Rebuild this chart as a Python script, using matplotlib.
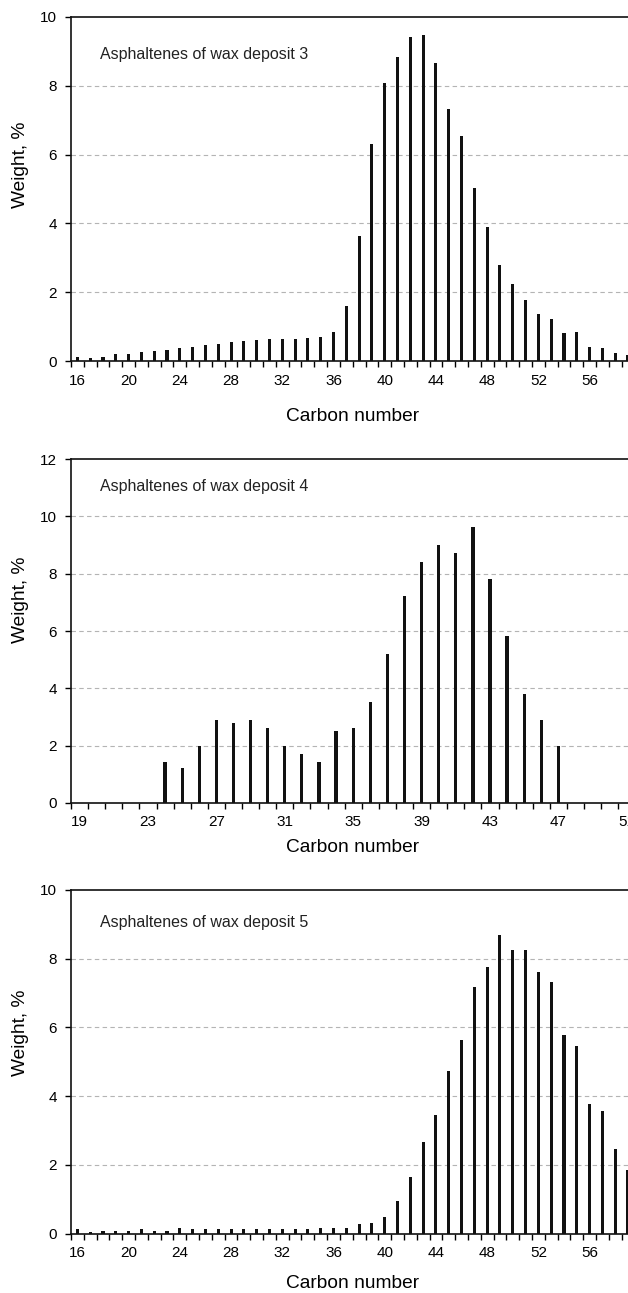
#!/usr/bin/env python3

import numpy as np
from matplotlib import pyplot as plt
from matplotlib.ticker import FixedLocator

plt.rcParams["font.family"] = ["Liberation Sans", "DejaVu Sans"]

out_filename = "out.png"

# deposit 3
carbon_3 = list(range(16, 60))
weight_3 = [
    0.13, 0.10, 0.13, 0.19, 0.19, 0.26, 0.29, 0.32, 0.39, 0.42,
    0.46, 0.49, 0.55, 0.58, 0.61, 0.64, 0.64, 0.64, 0.68, 0.71,
    0.83, 1.60, 3.64, 6.30, 8.09, 8.85, 9.43, 9.49, 8.66, 7.32,
    6.53, 5.03, 3.89, 2.80, 2.23, 1.76, 1.38, 1.21, 0.81, 0.83,
    0.42, 0.39, 0.22, 0.16,
]
labels_3 = list(range(16, 60, 4))

# deposit 4
carbon_4 = list(range(19, 52))
weight_4 = [
    0, 0, 0, 0, 0, 1.42, 1.21, 2.00, 2.91, 2.80,
    2.91, 2.60, 2.00, 1.71, 1.42, 2.50, 2.60, 3.51, 5.21, 7.21,
    8.41, 9.01, 8.71, 9.62, 7.81, 5.81, 3.80, 2.91, 2.00, 0,
    0, 0, 0,
]
labels_4 = list(range(19, 52, 4))

# deposit 5
carbon_5 = list(range(16, 60))
weight_5 = [
    0.13, 0.05, 0.09, 0.09, 0.09, 0.13, 0.09, 0.09, 0.16, 0.13,
    0.13, 0.13, 0.13, 0.13, 0.13, 0.13, 0.13, 0.13, 0.13, 0.16,
    0.16, 0.16, 0.27, 0.31, 0.49, 0.94, 1.64, 2.67, 3.45, 4.74,
    5.62, 7.17, 7.76, 8.68, 8.25, 8.25, 7.62, 7.32, 5.77, 5.47,
    3.78, 3.56, 2.45, 1.86,
]
labels_5 = list(range(16, 60, 4))

W, H = 628, 1293


def draw_panel(fig, rect, carbon, weight, labels, title, ymax, xmax,
               width, title_y, xlabel_y, ylabel_y):
    ax = fig.add_axes(rect)
    ax.bar(carbon, weight, width=width, color="#111111", linewidth=0, zorder=3)

    xmin = carbon[0] - 0.5
    ax.set_xlim(xmin, xmax)
    ax.set_ylim(0, ymax)

    ax.xaxis.set_major_locator(FixedLocator(labels))
    ax.xaxis.set_minor_locator(FixedLocator(np.arange(xmin, carbon[-1] + 1, 1.0)))
    ax.tick_params(axis="x", which="major", length=0, pad=9, labelsize=11)
    ax.tick_params(axis="x", which="minor", length=4, width=1, direction="out")
    ax.set_yticks(np.arange(0, ymax + 1, 2))
    ax.tick_params(axis="y", length=4, width=1, pad=6, labelsize=11)

    for y in range(2, ymax, 2):
        ax.axhline(y, color="#b4b4b4", linewidth=0.8, linestyle=(0, (4, 3)), zorder=1)

    ax.spines["right"].set_visible(False)
    for side in ("left", "bottom", "top"):
        ax.spines[side].set_linewidth(1.2)
        ax.spines[side].set_color("#111111")

    ax.text(0.052, title_y, title, transform=ax.transAxes, fontsize=11.5,
            va="center", ha="left", color="#222222")
    ax.set_xlabel("Carbon number", fontsize=13.8, va="center")
    ax.xaxis.set_label_coords(0.506, xlabel_y)
    ax.set_ylabel("Weight, %", fontsize=13.8, va="center")
    ax.yaxis.set_label_coords(-0.09, ylabel_y)
    return ax


def main():
    fig = plt.figure(figsize=(W / 100, H / 100), dpi=100)
    left = 71 / W
    width = (W - 71) / W
    height = 344 / H

    draw_panel(fig, [left, (H - 361) / H, width, height], carbon_3, weight_3,
               labels_3, "Asphaltenes of wax deposit 3", 10, 59.0, 0.24,
               0.89, -55 / 344, 0.57)
    draw_panel(fig, [left, (H - 803) / H, width, height], carbon_4, weight_4,
               labels_4, "Asphaltenes of wax deposit 4", 12, 51.07, 0.19,
               0.92, -45 / 344, 0.59)
    draw_panel(fig, [left, (H - 1233.7) / H, width, height], carbon_5, weight_5,
               labels_5, "Asphaltenes of wax deposit 5", 10, 59.0, 0.24,
               0.904, -50 / 344, 0.585)

    fig.savefig(out_filename, dpi=100)


if __name__ == "__main__":
    main()
